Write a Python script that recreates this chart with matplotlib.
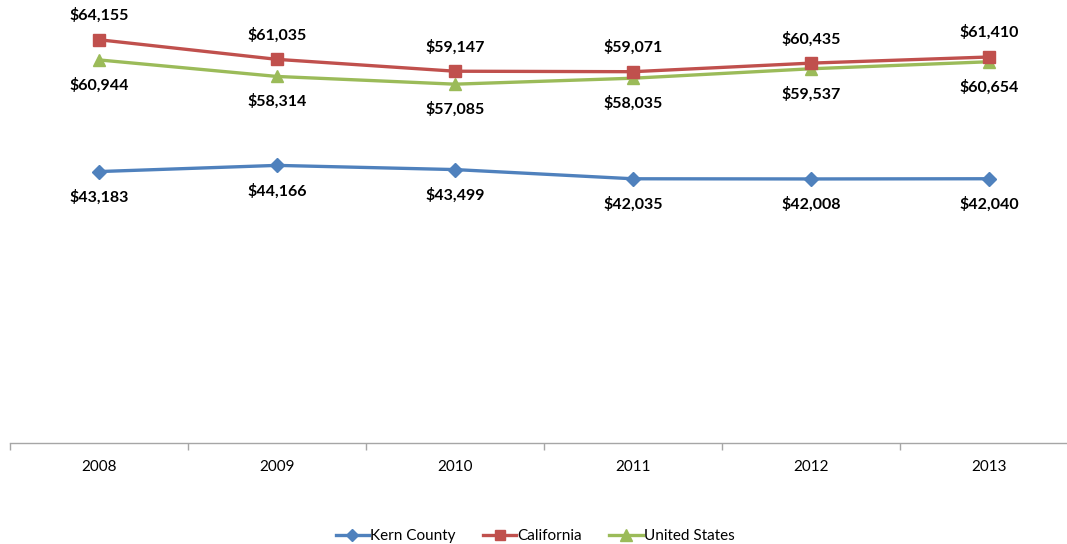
import matplotlib
matplotlib.use("Agg")
import matplotlib.pyplot as plt
from matplotlib.lines import Line2D

years = ["2008", "2009", "2010", "2011", "2012", "2013"]
kern = [43183, 44166, 43499, 42035, 42008, 42040]
california = [64155, 61035, 59147, 59071, 60435, 61410]
united_states = [60944, 58314, 57085, 58035, 59537, 60654]

plt.rcParams['font.family'] = ['Lato', 'DejaVu Sans']

W, H = 1067, 544
fig = plt.figure(figsize=(W / 100, H / 100), dpi=100)
left, right, top, bottom = 10, 1078, 3, 443
ax = fig.add_axes([left / W, 1 - bottom / H, (right - left) / W, (bottom - top) / H])

x = list(range(len(years)))
c_kern, c_ca, c_us = "#4F81BD", "#C0504D", "#9BBB59"

ax.plot(x, kern, color=c_kern, lw=2.4, marker="D", ms=7, zorder=3)
ax.plot(x, california, color=c_ca, lw=2.4, marker="s", ms=8.5, zorder=3)
ax.plot(x, united_states, color=c_us, lw=2.4, marker="^", ms=9, zorder=2)

def fmt(v):
    return "${:,}".format(v)

lbl_kw = dict(textcoords="offset points", ha="center", va="center",
              fontsize=11.5, fontweight="bold", color="black")
for xi, v in zip(x, california):
    ax.annotate(fmt(v), (xi, v), xytext=(0, 17.5), **lbl_kw)
for xi, v in zip(x, united_states):
    ax.annotate(fmt(v), (xi, v), xytext=(0, -18), **lbl_kw)
for xi, v in zip(x, kern):
    ax.annotate(fmt(v), (xi, v), xytext=(0, -18.5), **lbl_kw)

ax.set_xlim(-0.5, len(years) - 0.5)
ax.set_ylim(0, 70000)
ax.set_yticks([])
ax.set_xticks(x)
ax.set_xticklabels(years, fontsize=11)
ax.set_xticks([i - 0.5 for i in range(len(years) + 1)], minor=True)
ax.tick_params(axis="x", which="major", length=0, pad=12)
ax.tick_params(axis="x", which="minor", length=5, color="#A6A6A6", width=1)
for s in ["top", "right", "left"]:
    ax.spines[s].set_visible(False)
ax.spines["bottom"].set_color("#A6A6A6")
ax.spines["bottom"].set_linewidth(1)

handles = [
    Line2D([], [], color=c_kern, lw=2.4, marker="D", ms=6),
    Line2D([], [], color=c_ca, lw=2.4, marker="s", ms=7),
    Line2D([], [], color=c_us, lw=2.4, marker="^", ms=8),
]
fig.legend(handles, ["Kern County", "California", "United States"], loc="center",
           bbox_to_anchor=(535 / W, 1 - 536 / H), ncol=3, frameon=False, fontsize=11,
           handlelength=2.2, handletextpad=0.05, columnspacing=1.8)

fig.savefig("out.png", dpi=100)
